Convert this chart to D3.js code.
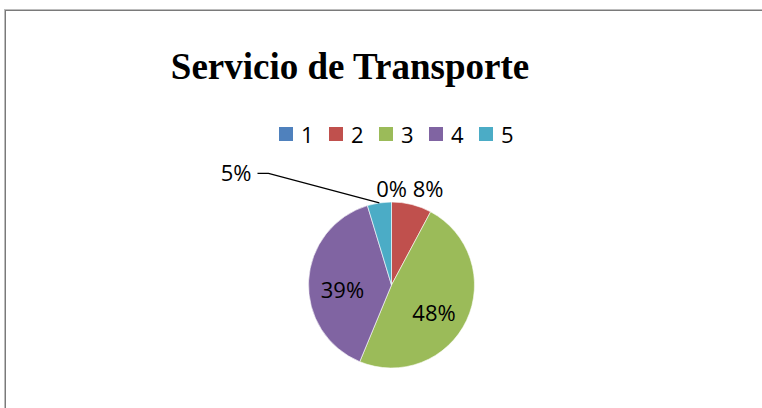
<!DOCTYPE html>
<html>
<head>
<meta charset="utf-8">
<script src="https://cdn.jsdelivr.net/npm/d3@7"></script>
<style>
  body { margin: 0; background: #fff; }
  svg { display: block; }
</style>
</head>
<body>
<div id="chart"></div>
<script>
// chart data
var categories = ["1", "2", "3", "4", "5"];
var counts = [0, 5, 31, 25, 3];
var colors = ["#4F81BD", "#C0504D", "#9BBB59", "#8064A2", "#4BACC6"];

var width = 762, height = 408;
var cx = 391.5, cy = 285, radius = 83;

var svg = d3.select("#chart").append("svg")
    .attr("width", width)
    .attr("height", height);

// outer frame (runs off the right and bottom)
svg.append("rect")
    .attr("x", 4.5).attr("y", 9.5)
    .attr("width", 800).attr("height", 450)
    .attr("fill", "none")
    .attr("stroke", "#bdbdbd");
svg.append("rect")
    .attr("x", 5.5).attr("y", 10.5)
    .attr("width", 800).attr("height", 450)
    .attr("fill", "none")
    .attr("stroke", "#7a7a7a");

// title
svg.append("text")
    .attr("x", 350)
    .attr("y", 79)
    .attr("text-anchor", "middle")
    .style("font-family", "'Liberation Serif', 'Times New Roman', serif")
    .style("font-weight", "bold")
    .style("font-size", "37px")
    .text("Servicio de Transporte");

// legend
var color = d3.scaleOrdinal().domain(categories).range(colors);
var legendX = d3.scalePoint().domain(categories).range([279, 479]);

var legend = svg.append("g").selectAll("g")
    .data(categories)
    .enter().append("g")
    .attr("transform", d => `translate(${legendX(d)},127)`);

legend.append("rect")
    .attr("width", 14).attr("height", 14)
    .attr("fill", d => color(d));

legend.append("text")
    .attr("x", 22)
    .attr("y", 15.5)
    .style("font-family", "'Open Sans', sans-serif")
    .style("font-size", "22px")
    .attr("fill", "#000")
    .text(d => d);

// pie
var total = d3.sum(counts);
var pieData = d3.pie().sort(null).value(d => d.value)(
    categories.map((c, i) => ({ cat: c, value: counts[i] }))
);

var arc = d3.arc().innerRadius(0).outerRadius(radius);
var labelArc = d3.arc().innerRadius(radius * 0.58).outerRadius(radius * 0.58);

var g = svg.append("g").attr("transform", `translate(${cx},${cy})`);

g.selectAll("path")
    .data(pieData)
    .enter().append("path")
    .attr("d", arc)
    .attr("fill", d => color(d.data.cat))
    .attr("stroke", "#fff")
    .attr("stroke-width", 0.6);

var pct = d => Math.round(d.data.value / total * 100) + "%";
var labelFont = "'Open Sans', sans-serif";

pieData.forEach(function (d, i) {
    var share = d.data.value / total;
    var mid = (d.startAngle + d.endAngle) / 2;
    var ex = radius * Math.sin(mid), ey = -radius * Math.cos(mid);

    if (share >= 0.1) {
        // inside labels
        var c = labelArc.centroid(d);
        g.append("text")
            .attr("x", c[0] - 1).attr("y", c[1] + 15)
            .attr("text-anchor", "middle")
            .style("font-family", labelFont)
            .style("font-size", "22px")
            .text(pct(d));
    } else if (i === 4) {
        // label moved out to the left, with a leader line
        var lx = -123, ly = -111.7;
        g.append("polyline")
            .attr("points", [[ex, ey], [lx, ly], [lx - 11, ly]].map(p => p.join(",")).join(" "))
            .attr("fill", "none")
            .attr("stroke", "#000")
            .attr("stroke-width", 1.3);
        g.append("text")
            .attr("x", lx - 17).attr("y", ly + 8)
            .attr("text-anchor", "end")
            .style("font-family", labelFont)
            .style("font-size", "22px")
            .text(pct(d));
    } else {
        // small slices: outside the top edge
        g.append("text")
            .attr("x", share === 0 ? ex : ex + 1)
            .attr("y", -radius - 5)
            .attr("text-anchor", share === 0 ? "middle" : "start")
            .style("font-family", labelFont)
            .style("font-size", "22px")
            .text(pct(d));
    }
});
</script>
</body>
</html>
